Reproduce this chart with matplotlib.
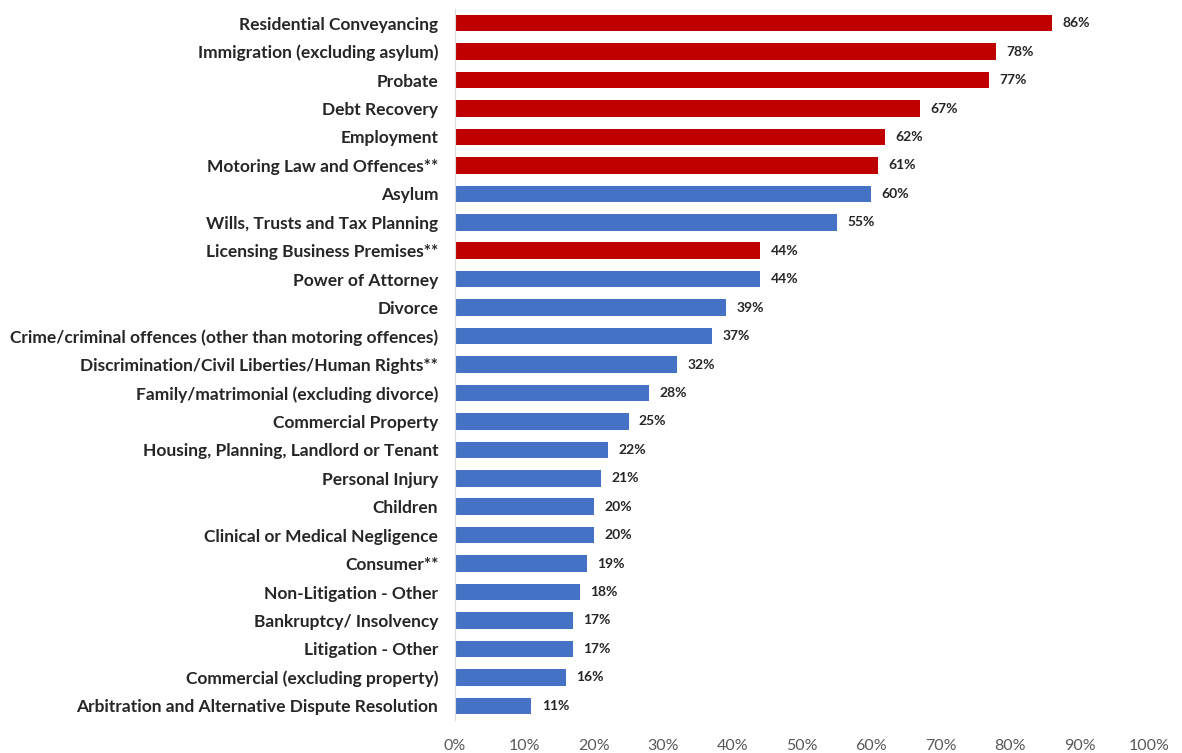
import matplotlib.pyplot as plt
from matplotlib.ticker import FuncFormatter

# 카테고리 (위에서 아래 순서)
categories = [
    "Residential Conveyancing",
    "Immigration (excluding asylum)",
    "Probate",
    "Debt Recovery",
    "Employment",
    "Motoring Law and Offences**",
    "Asylum",
    "Wills, Trusts and Tax Planning",
    "Licensing Business Premises**",
    "Power of Attorney",
    "Divorce",
    "Crime/criminal offences (other than motoring offences)",
    "Discrimination/Civil Liberties/Human Rights**",
    "Family/matrimonial (excluding divorce)",
    "Commercial Property",
    "Housing, Planning, Landlord or Tenant",
    "Personal Injury",
    "Children",
    "Clinical or Medical Negligence",
    "Consumer**",
    "Non-Litigation - Other",
    "Bankruptcy/ Insolvency",
    "Litigation - Other",
    "Commercial (excluding property)",
    "Arbitration and Alternative Dispute Resolution",
]
values = [86, 78, 77, 67, 62, 61, 60, 55, 44, 44, 39, 37, 32, 28, 25, 22, 21, 20, 20, 19, 18, 17, 17, 16, 11]
highlighted = [True, True, True, True, True, True, False, False, True, False,
               False, False, False, False, False, False, False, False, False, False,
               False, False, False, False, False]

RED = "#C00000"
BLUE = "#4472C4"

plt.rcParams['font.family'] = ['Lato', 'DejaVu Sans']

fig = plt.figure(figsize=(11.82, 7.53), dpi=100)
ax = fig.add_axes([455 / 1182, 1 - 720 / 753, (1149 - 455) / 1182, (720 - 9) / 753])

ypos = list(range(len(categories)))
colors = [RED if h else BLUE for h in highlighted]
ax.barh(ypos, values, height=0.58, color=colors)

for y, v in zip(ypos, values):
    ax.text(v + 1.5, y, f"{v}%", va='center', ha='left', fontsize=10,
            fontweight='bold', color='#262626')

ax.set_yticks(ypos)
ax.set_yticklabels(categories, fontsize=12.5, fontweight='bold', color='#262626')
ax.set_ylim(len(categories) - 0.5, -0.5)
ax.set_xlim(0, 100)
ax.set_xticks(range(0, 101, 10))
ax.xaxis.set_major_formatter(FuncFormatter(lambda x, _: f"{int(x)}%"))
ax.tick_params(axis='x', length=0, labelsize=11.5, labelcolor='#595959', pad=14)
ax.tick_params(axis='y', length=0, pad=12)

for side in ['top', 'right', 'bottom']:
    ax.spines[side].set_visible(False)
ax.spines['left'].set_color('#D9D9D9')

plt.savefig("out.png", dpi=100)
